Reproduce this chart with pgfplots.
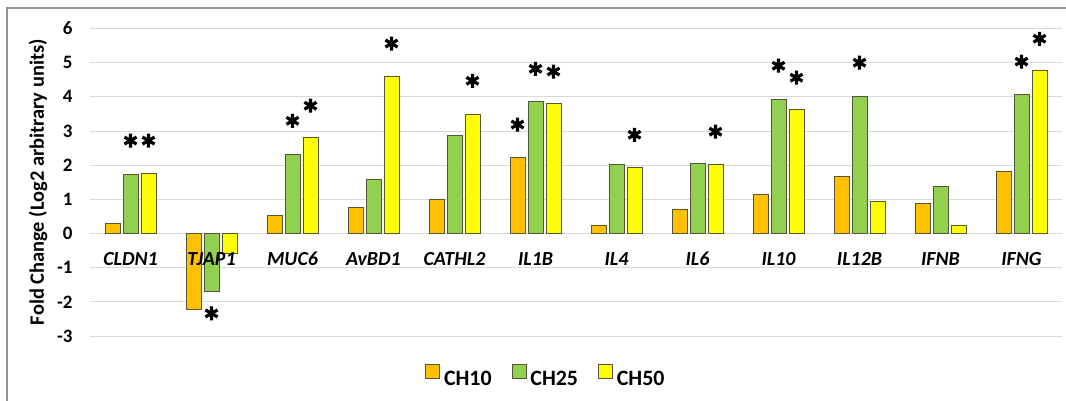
\documentclass[border=0pt]{standalone}
\usepackage{fontspec}
\setmainfont{Carlito}
\usepackage{pgfplots}
\usepackage{pgfplotstable}
\pgfplotsset{compat=1.18}
\definecolor{c10}{HTML}{FFC000}
\definecolor{c25}{HTML}{92D050}
\definecolor{c50}{HTML}{FFFF00}
\definecolor{edge}{HTML}{55553A}
\definecolor{gridc}{HTML}{D9D9D9}

\pgfplotsset{
  base/.style={
    at={(90bp,65bp)}, anchor=south west,
    scale only axis, width=972bp, height=307.5bp,
    xmin=-0.5, xmax=11.5, ymin=-3, ymax=6,
    axis line style={draw=none},
    major tick length=0pt,
  },
}

\pgfplotstableread{
x CH10 CH25 CH50
0 0.29 1.72 1.76
1 -2.22 -1.68 -0.59
2 0.53 2.32 2.81
3 0.77 1.58 4.59
4 1.00 2.87 3.49
5 2.23 3.87 3.80
6 0.23 2.03 1.94
7 0.72 2.06 2.03
8 1.13 3.92 3.62
9 1.68 4.02 0.94
10 0.87 1.39 0.23
11 1.81 4.06 4.76
}\datatable

\begin{document}
\begin{tikzpicture}
\useasboundingbox (0,0) rectangle (1066bp,401bp);
\draw[line width=1.5bp, draw=gray!85] (7bp,0) -- (7bp,393bp) -- (1066bp,393bp);
\begin{axis}[
  base,
  ytick={-3,-2,...,6},
  ymajorgrids,
  grid style={draw=gridc, line width=1bp},
  xtick=\empty,
  yticklabel style={font=\fontsize{19}{19}\selectfont\bfseries, xshift=-14bp},
  /pgf/number format/assume math mode=true,
  ylabel={Fold Change (Log2 arbitrary units)},
  every axis y label/.style={at={(axis description cs:0,0.5)}, xshift=-52bp, rotate=90, anchor=center, font=\fontsize{20.5}{20.5}\selectfont\bfseries},
  legend columns=3,
  legend style={draw=none, fill=none, at={(0.469,-0.133)}, anchor=center,
    font=\fontsize{22}{22}\selectfont\bfseries,
    /tikz/every even column/.append style={column sep=0pt},
    /tikz/every odd column/.append style={column sep=0pt}},
]
\addlegendimage{legend image code/.code={\node[draw=edge, fill=c10, line width=0.8bp, minimum width=14bp, minimum height=14bp, inner sep=0pt, outer sep=0pt, anchor=south west] at (0bp,0.5bp) {};}}
\addlegendentry{\hspace*{2bp}CH10\hspace*{18bp}}
\addlegendimage{legend image code/.code={\node[draw=edge, fill=c25, line width=0.8bp, minimum width=14bp, minimum height=14bp, inner sep=0pt, outer sep=0pt, anchor=south west] at (0bp,0.5bp) {};}}
\addlegendentry{\hspace*{2bp}CH25\hspace*{18bp}}
\addlegendimage{legend image code/.code={\node[draw=edge, fill=c50, line width=0.8bp, minimum width=14bp, minimum height=14bp, inner sep=0pt, outer sep=0pt, anchor=south west] at (0bp,0.5bp) {};}}
\addlegendentry{\hspace*{2bp}CH50}
\addplot[ybar, bar width=0.185, bar shift=-0.222, fill=c10, draw=edge, line width=0.8bp, forget plot] table[x=x, y=CH10] {\datatable};
\addplot[ybar, bar width=0.185, bar shift=0, fill=c25, draw=edge, line width=0.8bp, forget plot] table[x=x, y=CH25] {\datatable};
\addplot[ybar, bar width=0.185, bar shift=0.222, fill=c50, draw=edge, line width=0.8bp, forget plot] table[x=x, y=CH50] {\datatable};
\addplot[only marks, mark=asterisk, mark size=7bp, mark options={line width=3.2bp, draw=black}, forget plot] coordinates {
(0,2.72) (0.222,2.72)
(1,-2.34)
(2,3.30) (2.222,3.74)
(3.222,5.56)
(4.222,4.47)
(4.778,3.19) (5,4.82) (5.222,4.74)
(6.222,2.89)
(7.222,2.98)
(8,4.91) (8.222,4.56)
(9,5.0)
(11,5.03) (11.222,5.70)
};
\end{axis}
\begin{axis}[
  base,
  ytick=\empty,
  xtick={0,...,11},
  xticklabels={CLDN1,TJAP1,MUC6,AvBD1,CATHL2,IL1B,IL4,IL6,IL10,IL12B,IFNB,IFNG},
  xticklabel style={font=\fontsize{20}{20}\selectfont\bfseries\itshape, anchor=base, yshift=70bp},
]
\end{axis}
\end{tikzpicture}
\end{document}
